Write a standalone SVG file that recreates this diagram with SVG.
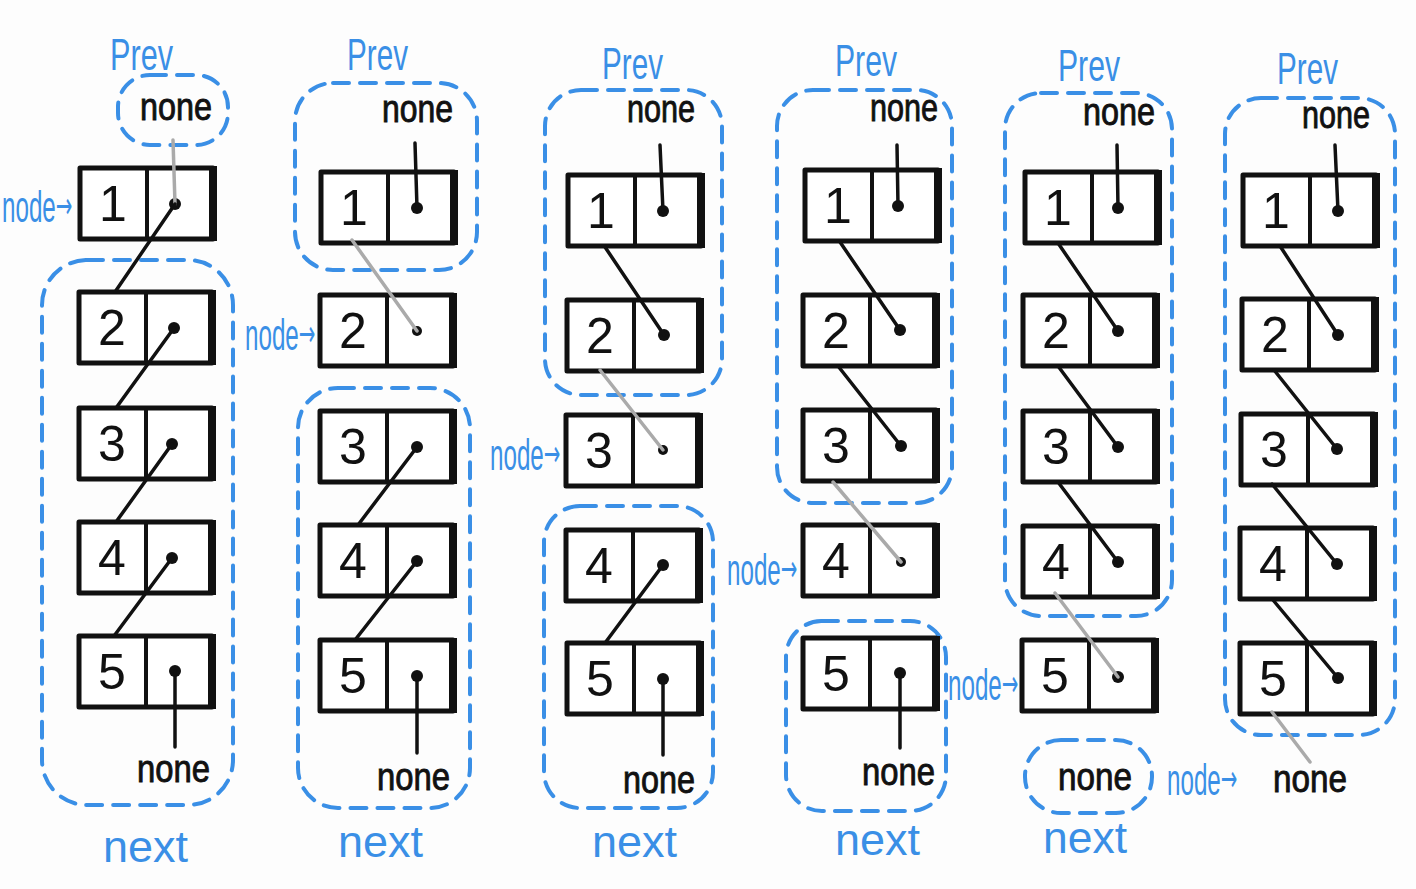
<svg xmlns="http://www.w3.org/2000/svg" width="1416" height="889" viewBox="0 0 1416 889">
<style>
.bx{fill:#fff;stroke:#111;stroke-width:5;stroke-linejoin:round}
.dv{stroke:#111;stroke-width:4}
.re{stroke:#111;stroke-width:8}
.dt{fill:#111}
.num{font-family:"Liberation Sans",Arial,sans-serif;font-size:50px;fill:#111;text-anchor:middle}
.none{font-family:"Liberation Sans",Arial,sans-serif;font-size:38px;fill:#111;stroke:#111;stroke-width:0.9}
.blue{font-family:"Liberation Sans",Arial,sans-serif;fill:#3a8fe6}
.prev{font-size:44px}
.next{font-size:44px}
.nd{font-size:44px}
.arw{font-family:"DejaVu Sans",sans-serif;font-size:36px}
.grp{fill:none;stroke:#3a8fe6;stroke-width:4;stroke-dasharray:16 11;stroke-linecap:round}
.lk{stroke:#111;stroke-width:3.5;fill:none;stroke-linecap:round}
.gl{stroke:#aaa;stroke-width:3.5;fill:none;stroke-linecap:round}
</style>
<defs>
<g id="box">
<rect class="bx" x="0" y="0" width="133" height="71"/>
<line class="dv" x1="67" y1="0" x2="67" y2="71"/>
<line class="re" x1="133" y1="-2" x2="133" y2="73"/>
</g>
</defs>
<rect width="1416" height="889" fill="#fdfdfd"/>

<g id="groups">
<rect class="grp" x="118" y="75" width="110" height="70" rx="32"/>
<rect class="grp" x="42" y="260" width="191" height="545" rx="45"/>
<rect class="grp" x="295" y="83" width="182" height="187" rx="38"/>
<rect class="grp" x="298" y="388" width="172" height="420" rx="40"/>
<rect class="grp" x="545" y="90" width="177" height="305" rx="36"/>
<rect class="grp" x="544" y="506" width="169" height="302" rx="36"/>
<rect class="grp" x="777" y="90" width="175" height="413" rx="36"/>
<rect class="grp" x="786" y="621" width="160" height="190" rx="36"/>
<rect class="grp" x="1005" y="93" width="167" height="523" rx="36"/>
<rect class="grp" x="1025" y="740" width="127" height="73" rx="36"/>
<rect class="grp" x="1225" y="98" width="170" height="637" rx="36"/>
</g>

<!-- column 1 -->
<g id="c1n1"><use href="#box" x="80" y="168"/><text class="num" x="113" y="221">1</text><circle class="dt" cx="175" cy="204" r="6"/></g>
<g id="c1n2"><use href="#box" x="79" y="292"/><text class="num" x="112" y="345">2</text><circle class="dt" cx="174" cy="328" r="6"/></g>
<g id="c1n3"><use href="#box" x="79" y="408"/><text class="num" x="112" y="461">3</text><circle class="dt" cx="172" cy="444" r="6"/></g>
<g id="c1n4"><use href="#box" x="79" y="522"/><text class="num" x="112" y="575">4</text><circle class="dt" cx="172" cy="558" r="6"/></g>
<g id="c1n5"><use href="#box" x="79" y="636"/><text class="num" x="112" y="689">5</text><circle class="dt" cx="175" cy="671" r="6"/></g>

<!-- column 2 -->
<g id="c2n1"><use href="#box" x="321" y="172"/><text class="num" x="354" y="225">1</text><circle class="dt" cx="417" cy="208" r="6"/></g>
<g id="c2n2"><use href="#box" x="320" y="295"/><text class="num" x="353" y="348">2</text><circle class="dt" cx="417" cy="331" r="5"/></g>
<g id="c2n3"><use href="#box" x="320" y="411"/><text class="num" x="353" y="464">3</text><circle class="dt" cx="417" cy="447" r="6"/></g>
<g id="c2n4"><use href="#box" x="320" y="525"/><text class="num" x="353" y="578">4</text><circle class="dt" cx="417" cy="561" r="6"/></g>
<g id="c2n5"><use href="#box" x="320" y="640"/><text class="num" x="353" y="693">5</text><circle class="dt" cx="417" cy="676" r="6"/></g>

<!-- column 3 -->
<g id="c3n1"><use href="#box" x="568" y="175"/><text class="num" x="601" y="228">1</text><circle class="dt" cx="663" cy="211" r="6"/></g>
<g id="c3n2"><use href="#box" x="567" y="300"/><text class="num" x="600" y="353">2</text><circle class="dt" cx="664" cy="335" r="6"/></g>
<g id="c3n3"><use href="#box" x="566" y="415"/><text class="num" x="599" y="468">3</text><circle class="dt" cx="663" cy="450" r="5"/></g>
<g id="c3n4"><use href="#box" x="566" y="530"/><text class="num" x="599" y="583">4</text><circle class="dt" cx="663" cy="565" r="6"/></g>
<g id="c3n5"><use href="#box" x="567" y="643"/><text class="num" x="600" y="696">5</text><circle class="dt" cx="663" cy="679" r="6"/></g>

<!-- column 4 -->
<g id="c4n1"><use href="#box" x="805" y="170"/><text class="num" x="838" y="223">1</text><circle class="dt" cx="898" cy="206" r="6"/></g>
<g id="c4n2"><use href="#box" x="803" y="295"/><text class="num" x="836" y="348">2</text><circle class="dt" cx="900" cy="330" r="6"/></g>
<g id="c4n3"><use href="#box" x="803" y="410"/><text class="num" x="836" y="463">3</text><circle class="dt" cx="901" cy="446" r="6"/></g>
<g id="c4n4"><use href="#box" x="803" y="525"/><text class="num" x="836" y="578">4</text><circle class="dt" cx="901" cy="562" r="5"/></g>
<g id="c4n5"><use href="#box" x="803" y="638"/><text class="num" x="836" y="691">5</text><circle class="dt" cx="900" cy="673" r="6"/></g>

<!-- column 5 -->
<g id="c5n1"><use href="#box" x="1025" y="172"/><text class="num" x="1058" y="225">1</text><circle class="dt" cx="1118" cy="208" r="6"/></g>
<g id="c5n2"><use href="#box" x="1023" y="295"/><text class="num" x="1056" y="348">2</text><circle class="dt" cx="1118" cy="331" r="6"/></g>
<g id="c5n3"><use href="#box" x="1023" y="411"/><text class="num" x="1056" y="464">3</text><circle class="dt" cx="1118" cy="447" r="6"/></g>
<g id="c5n4"><use href="#box" x="1023" y="526"/><text class="num" x="1056" y="579">4</text><circle class="dt" cx="1118" cy="562" r="6"/></g>
<g id="c5n5"><use href="#box" x="1022" y="640"/><text class="num" x="1055" y="693">5</text><circle class="dt" cx="1118" cy="677" r="6"/></g>

<!-- column 6 -->
<g id="c6n1"><use href="#box" x="1243" y="175"/><text class="num" x="1276" y="228">1</text><circle class="dt" cx="1338" cy="211" r="6"/></g>
<g id="c6n2"><use href="#box" x="1242" y="299"/><text class="num" x="1275" y="352">2</text><circle class="dt" cx="1338" cy="335" r="6"/></g>
<g id="c6n3"><use href="#box" x="1241" y="414"/><text class="num" x="1274" y="467">3</text><circle class="dt" cx="1337" cy="449" r="6"/></g>
<g id="c6n4"><use href="#box" x="1240" y="528"/><text class="num" x="1273" y="581">4</text><circle class="dt" cx="1337" cy="564" r="6"/></g>
<g id="c6n5"><use href="#box" x="1240" y="643"/><text class="num" x="1273" y="696">5</text><circle class="dt" cx="1338" cy="678" r="6"/></g>

<g id="connectors">
<line class="gl" x1="173" y1="140" x2="175" y2="204"/>
<line class="lk" x1="175" y1="204" x2="115" y2="292"/>
<line class="lk" x1="174" y1="328" x2="116" y2="408"/>
<line class="lk" x1="172" y1="444" x2="116" y2="522"/>
<line class="lk" x1="172" y1="558" x2="114" y2="636"/>
<line class="lk" x1="175" y1="671" x2="175" y2="747"/>

<line class="lk" x1="415" y1="143" x2="417" y2="208"/>
<line class="gl" x1="352" y1="240" x2="417" y2="331"/>
<line class="lk" x1="417" y1="447" x2="358" y2="525"/>
<line class="lk" x1="417" y1="561" x2="355" y2="640"/>
<line class="lk" x1="417" y1="676" x2="417" y2="753"/>

<line class="lk" x1="660" y1="145" x2="663" y2="211"/>
<line class="lk" x1="605" y1="247" x2="664" y2="335"/>
<line class="gl" x1="600" y1="370" x2="663" y2="450"/>
<line class="lk" x1="663" y1="565" x2="605" y2="643"/>
<line class="lk" x1="663" y1="679" x2="663" y2="755"/>

<line class="lk" x1="897" y1="145" x2="898" y2="206"/>
<line class="lk" x1="840" y1="242" x2="900" y2="330"/>
<line class="lk" x1="838" y1="366" x2="901" y2="446"/>
<line class="gl" x1="833" y1="482" x2="901" y2="562"/>
<line class="lk" x1="900" y1="673" x2="900" y2="748"/>

<line class="lk" x1="1117" y1="145" x2="1118" y2="208"/>
<line class="lk" x1="1058" y1="243" x2="1118" y2="331"/>
<line class="lk" x1="1058" y1="366" x2="1118" y2="447"/>
<line class="lk" x1="1058" y1="482" x2="1118" y2="562"/>
<line class="gl" x1="1055" y1="593" x2="1118" y2="677"/>

<line class="lk" x1="1335" y1="145" x2="1338" y2="211"/>
<line class="lk" x1="1280" y1="246" x2="1338" y2="335"/>
<line class="lk" x1="1274" y1="370" x2="1337" y2="449"/>
<line class="lk" x1="1272" y1="484" x2="1337" y2="564"/>
<line class="lk" x1="1273" y1="600" x2="1338" y2="678"/>
<line class="gl" x1="1272" y1="712" x2="1310" y2="762"/>
</g>

<g id="none-labels">
<text class="none" x="140" y="120" textLength="72" lengthAdjust="spacingAndGlyphs">none</text>
<text class="none" x="137" y="782" textLength="73" lengthAdjust="spacingAndGlyphs">none</text>
<text class="none" x="382" y="122" textLength="71" lengthAdjust="spacingAndGlyphs">none</text>
<text class="none" x="377" y="790" textLength="73" lengthAdjust="spacingAndGlyphs">none</text>
<text class="none" x="627" y="122" textLength="68" lengthAdjust="spacingAndGlyphs">none</text>
<text class="none" x="623" y="793" textLength="72" lengthAdjust="spacingAndGlyphs">none</text>
<text class="none" x="870" y="121" textLength="68" lengthAdjust="spacingAndGlyphs">none</text>
<text class="none" x="862" y="785" textLength="73" lengthAdjust="spacingAndGlyphs">none</text>
<text class="none" x="1083" y="125" textLength="72" lengthAdjust="spacingAndGlyphs">none</text>
<text class="none" x="1058" y="790" textLength="74" lengthAdjust="spacingAndGlyphs">none</text>
<text class="none" x="1302" y="128" textLength="68" lengthAdjust="spacingAndGlyphs">none</text>
<text class="none" x="1273" y="792" textLength="74" lengthAdjust="spacingAndGlyphs">none</text>
</g>

<g id="prev-labels">
<text class="blue prev" x="110" y="70" textLength="63" lengthAdjust="spacingAndGlyphs">Prev</text>
<text class="blue prev" x="347" y="70" textLength="61" lengthAdjust="spacingAndGlyphs">Prev</text>
<text class="blue prev" x="602" y="79" textLength="61" lengthAdjust="spacingAndGlyphs">Prev</text>
<text class="blue prev" x="835" y="76" textLength="62" lengthAdjust="spacingAndGlyphs">Prev</text>
<text class="blue prev" x="1058" y="81" textLength="62" lengthAdjust="spacingAndGlyphs">Prev</text>
<text class="blue prev" x="1277" y="84" textLength="61" lengthAdjust="spacingAndGlyphs">Prev</text>
</g>

<g id="next-labels">
<text class="blue next" x="103" y="862" textLength="85" lengthAdjust="spacingAndGlyphs">next</text>
<text class="blue next" x="338" y="857" textLength="85" lengthAdjust="spacingAndGlyphs">next</text>
<text class="blue next" x="592" y="857" textLength="85" lengthAdjust="spacingAndGlyphs">next</text>
<text class="blue next" x="835" y="855" textLength="85" lengthAdjust="spacingAndGlyphs">next</text>
<text class="blue next" x="1043" y="853" textLength="84" lengthAdjust="spacingAndGlyphs">next</text>
</g>

<g id="node-labels">
<text class="blue nd" transform="translate(2,222) scale(0.55,1)">node<tspan class="arw" dy="-4">→</tspan></text>
<text class="blue nd" transform="translate(245,350) scale(0.55,1)">node<tspan class="arw" dy="-4">→</tspan></text>
<text class="blue nd" transform="translate(490,470) scale(0.55,1)">node<tspan class="arw" dy="-4">→</tspan></text>
<text class="blue nd" transform="translate(727,585) scale(0.55,1)">node<tspan class="arw" dy="-4">→</tspan></text>
<text class="blue nd" transform="translate(948,700) scale(0.55,1)">node<tspan class="arw" dy="-4">→</tspan></text>
<text class="blue nd" transform="translate(1167,795) scale(0.55,1)">node<tspan class="arw" dy="-4">→</tspan></text>
</g>
</svg>
